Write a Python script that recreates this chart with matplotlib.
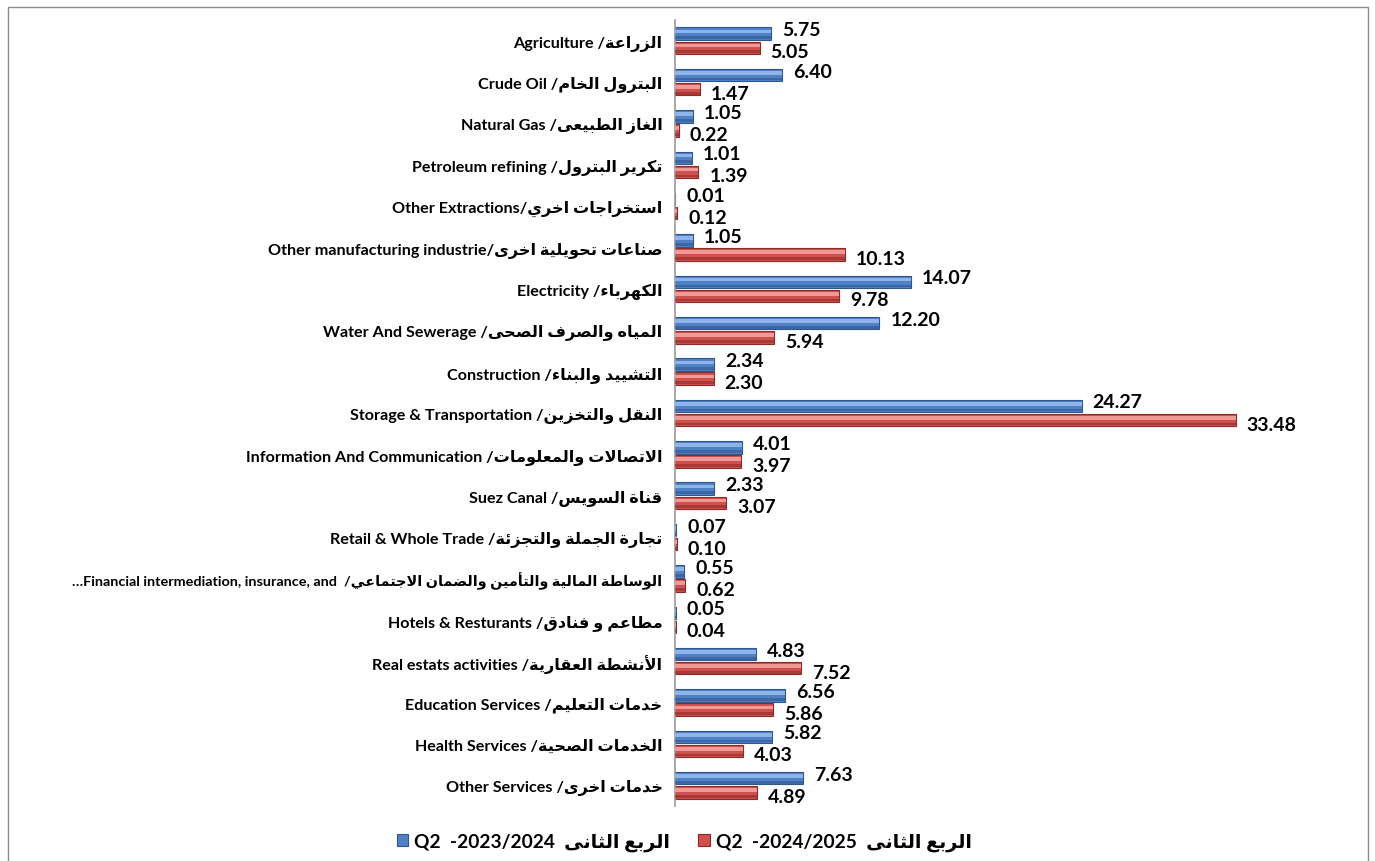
import unicodedata
import matplotlib
matplotlib.use('Agg')
import matplotlib.pyplot as plt
from matplotlib.patches import Rectangle

# sector names, arabic in logical order, english already in visual order
arabic_names = [
    'الزراعة', 'البترول الخام', 'الغاز الطبيعى', 'تكرير البترول',
    'استخراجات اخري', 'صناعات تحويلية اخرى', 'الكهرباء',
    'المياه والصرف الصحى', 'التشييد والبناء', 'النقل والتخزين',
    'الاتصالات والمعلومات', 'قناة السويس', 'تجارة الجملة والتجزئة',
    'الوساطة المالية والتأمين والضمان الاجتماعي', 'مطاعم و فنادق',
    'الأنشطة العقارية', 'خدمات التعليم', 'الخدمات الصحية', 'خدمات اخرى',
]
english_names = [
    'Agriculture /', 'Crude Oil /', 'Natural Gas /', 'Petroleum refining /',
    'Other Extractions/', 'Other manufacturing industrie/', 'Electricity /',
    'Water And Sewerage /', 'Construction /', 'Storage & Transportation /',
    'Information And Communication /', 'Suez Canal /', 'Retail & Whole Trade /',
    '\u2026Financial intermediation, insurance, and  /', 'Hotels & Resturants /',
    'Real estats activities /', 'Education Services /', 'Health Services /',
    'Other Services /',
]
q2_2023_2024 = [5.75, 6.40, 1.05, 1.01, 0.01, 1.05, 14.07, 12.20, 2.34, 24.27,
                4.01, 2.33, 0.07, 0.55, 0.05, 4.83, 6.56, 5.82, 7.63]
q2_2024_2025 = [5.05, 1.47, 0.22, 1.39, 0.12, 10.13, 9.78, 5.94, 2.30, 33.48,
                3.97, 3.07, 0.10, 0.62, 0.04, 7.52, 5.86, 4.03, 4.89]
legend_arabic = 'الربع الثانى'
legend_blue = 'Q2  -2023/2024  '
legend_red = 'Q2  -2024/2025  '

# --- tiny arabic shaper (no bidi lib available) ---
RIGHT_JOIN = set('اأإآدذرزوؤةى')
NON_JOIN = set('ء')
LAM_ALEF = {'ا': 'ALEF', 'أ': 'ALEF WITH HAMZA ABOVE',
            'إ': 'ALEF WITH HAMZA BELOW', 'آ': 'ALEF WITH MADDA ABOVE'}


def is_ar(c):
    return '\u0621' <= c <= '\u064a'


def form(c, kind):
    try:
        return unicodedata.lookup(unicodedata.name(c) + ' ' + kind + ' FORM')
    except KeyError:
        return c


def shape(text):
    out = []
    prev_dual = False
    i = 0
    n = len(text)
    while i < n:
        c = text[i]
        if not is_ar(c):
            out.append(c)
            prev_dual = False
            i += 1
            continue
        if c == 'ل' and i + 1 < n and text[i + 1] in LAM_ALEF:
            kind = ' FINAL FORM' if prev_dual else ' ISOLATED FORM'
            out.append(unicodedata.lookup('ARABIC LIGATURE LAM WITH ' + LAM_ALEF[text[i + 1]] + kind))
            prev_dual = False
            i += 2
            continue
        dual = c not in RIGHT_JOIN and c not in NON_JOIN
        joins_prev = prev_dual and c not in NON_JOIN
        joins_next = dual and i + 1 < n and is_ar(text[i + 1]) and text[i + 1] not in NON_JOIN
        if joins_prev and joins_next:
            out.append(form(c, 'MEDIAL'))
        elif joins_prev:
            out.append(form(c, 'FINAL'))
        elif joins_next:
            out.append(form(c, 'INITIAL'))
        else:
            out.append(form(c, 'ISOLATED'))
        prev_dual = dual
        i += 1
    return ''.join(out)


def ar(text):
    return shape(text)[::-1]


labels = [en + ar(a) for en, a in zip(english_names, arabic_names)]

FONT = ['Lato', 'DejaVu Sans']
blue_mid, blue_light, blue_dark = '#4F81C7', '#8FB4EA', '#2E568F'
red_mid, red_light, red_dark = '#D0504D', '#F09A97', '#8C2A27'

fig = plt.figure(figsize=(13.75, 8.62), dpi=100)
ax = fig.add_axes([675 / 1375, 1 - 807 / 862, 670 / 1375, (807 - 21) / 862])

n = len(labels)
ypos = list(range(n))
h = 0.30
off = 0.17
yb = [y - off for y in ypos]
yr = [y + off for y in ypos]

bars_b = ax.barh(yb, q2_2023_2024, height=h, color=blue_mid, edgecolor=blue_dark, linewidth=0.8, zorder=2)
ax.barh([y - h * 0.18 for y in yb], q2_2023_2024, height=h * 0.3, color=blue_light, linewidth=0, zorder=3)
ax.barh([y + h * 0.33 for y in yb], q2_2023_2024, height=h * 0.22, color=blue_dark, alpha=0.6, linewidth=0, zorder=3)
bars_r = ax.barh(yr, q2_2024_2025, height=h, color=red_mid, edgecolor=red_dark, linewidth=0.8, zorder=2)
ax.barh([y - h * 0.18 for y in yr], q2_2024_2025, height=h * 0.3, color=red_light, linewidth=0, zorder=3)
ax.barh([y + h * 0.33 for y in yr], q2_2024_2025, height=h * 0.22, color=red_dark, alpha=0.6, linewidth=0, zorder=3)

for y, v in zip(yb, q2_2023_2024):
    ax.annotate(f'{v:.2f}', (v, y), xytext=(11, 4), textcoords='offset pixels',
                ha='left', va='center', fontsize=14, fontweight='bold', family=FONT, color='black')
for y, v in zip(yr, q2_2024_2025):
    ax.annotate(f'{v:.2f}', (v, y), xytext=(11, -4), textcoords='offset pixels',
                ha='left', va='center', fontsize=14, fontweight='bold', family=FONT, color='black')

ax.set_xlim(0, 40)
ax.set_ylim(n - 0.5, -0.5)
ax.set_yticks(ypos)
ax.set_yticklabels(labels, fontsize=11.6, fontweight='bold', family=FONT)
# the long financial label is wider with the fallback arabic font
ax.get_yticklabels()[13].set_fontsize(10.4)
ax.tick_params(axis='y', length=0, pad=9)
ax.set_xticks([])
for s in ['top', 'right', 'bottom']:
    ax.spines[s].set_visible(False)
ax.spines['left'].set_color('#9A9A9A')
ax.spines['left'].set_linewidth(1.2)

leg = fig.legend([bars_b, bars_r],
                 [legend_blue + ar(legend_arabic), legend_red + ar(legend_arabic)],
                 loc='center', bbox_to_anchor=(684 / 1375, 1 - 843 / 862), ncol=2,
                 frameon=False, handlelength=0.6, handleheight=0.6, handletextpad=0.3,
                 columnspacing=1.5, prop={'family': FONT, 'weight': 'bold', 'size': 13.8})

fig.patches.append(Rectangle((8 / 1375, -0.01), (1368 - 8) / 1375, 1 - 8 / 862 + 0.01,
                             transform=fig.transFigure, fill=False, edgecolor='#8C8C8C', linewidth=1))

fig.savefig('out.png', dpi=100)
